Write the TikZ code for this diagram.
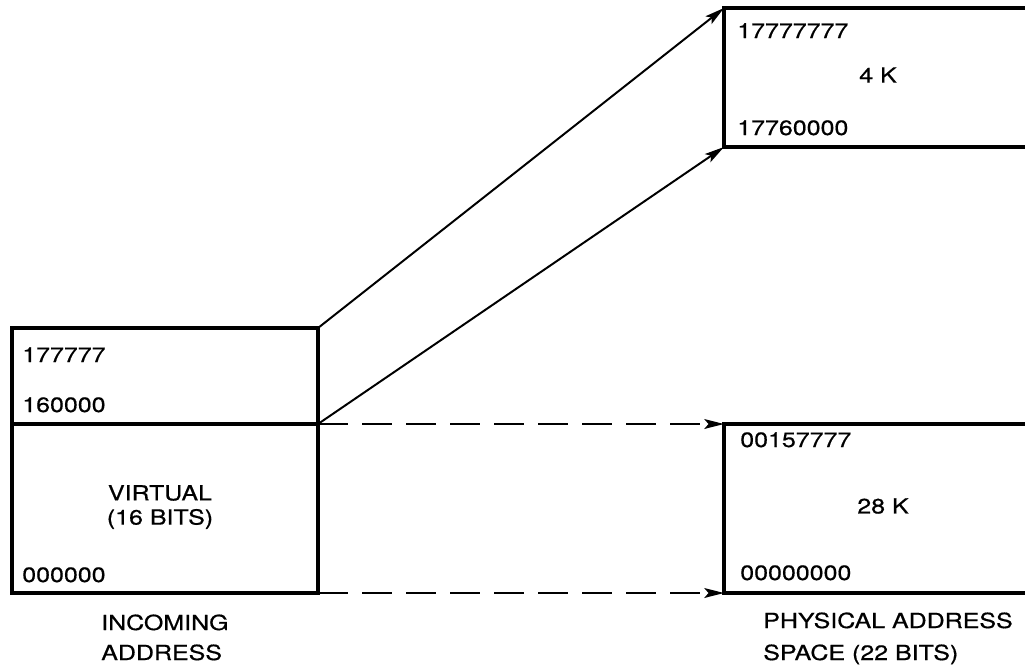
\documentclass[tikz,border=0pt]{standalone}
\usepackage{fontspec}
\setmainfont{TeX Gyre Heros}[FakeStretch=1.2,FakeBold=0.6]
\usetikzlibrary{arrows.meta}
\begin{document}
\begin{tikzpicture}[x=0.025cm, y=-0.025cm, font=\fontsize{14.8}{18}\selectfont, line join=miter,
		box/.style={line width=2.3pt},
		map/.style={-{Stealth[length=14pt,width=7pt,inset=3pt]}, line width=1.4pt},
		dashmap/.style={map, dash pattern=on 0.75cm off 0.35cm},
		lbl/.style={anchor=base west, inner sep=0pt}]
				\useasboundingbox (0,0) rectangle (1025,667);
				% incoming address
				\coordinate (vtl) at (12,328); \coordinate (vtr) at (318,328);
				\coordinate (vml) at (12,424); \coordinate (vmr) at (318,424);
				\coordinate (vbl) at (12,593); \coordinate (vbr) at (318,593);
				\draw[box] (vtl) rectangle (vbr);
				\draw[box] (vml)--(vmr);
				\node[lbl] (vhi) at (22,362) {177777};
				\node[lbl] (vlo) at (22,412) {160000};
				\node[inner sep=0pt] (virt) at (160,493) {VIRTUAL};
				\node[inner sep=0pt] (bits) at (160,519) {(16 BITS)};
				\node[lbl] (vzero) at (22,582) {000000};
				\node[lbl] (inc) at (101,630) {INCOMING};
				\node[lbl] (adr) at (101,660) {ADDRESS};
				% physical address space
				\coordinate (ptl) at (724,8); \coordinate (pbl) at (724,147);
				\coordinate (qtl) at (724,424); \coordinate (qbl) at (724,593);
				\draw[box] (1025,8)--(ptl)--(pbl)--(1025,147);
				\draw[box] (1025,424)--(qtl)--(qbl)--(1025,593);
				\node[lbl] (phi) at (737,38) {17777777};
				\node[inner sep=0pt] (four) at (878,75) {4 K};
				\node[lbl] (plo) at (737,135) {17760000};
				\node[lbl] (qhi) at (740,447) {00157777};
				\node[inner sep=0pt] (twe) at (883,506) {28 K};
				\node[lbl] (qlo) at (740,580) {00000000};
				\node[lbl] (phys) at (763,628) {PHYSICAL ADDRESS};
				\node[lbl] (spc) at (763,660) {SPACE (22 BITS)};
				% mapping
				\draw[map] (vtr)--(ptl);
				\draw[map] (vmr)--(pbl);
				\draw[dashmap] (vmr)--(qtl);
				\draw[dashmap] (vbr)--(qbl);
		\end{tikzpicture}
\end{document}
